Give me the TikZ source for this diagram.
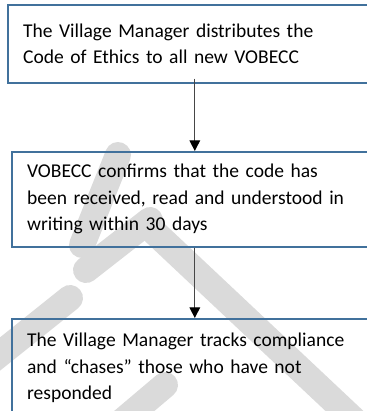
\documentclass[tikz,border=0pt]{standalone}
\usepackage{fontspec}
\setmainfont{Carlito}
\usetikzlibrary{arrows.meta}

\definecolor{boxblue}{RGB}{65,113,156}
\definecolor{markgray}{RGB}{218,218,218}
\definecolor{linegray}{RGB}{70,70,70}

\tikzset{every picture/.style={line width=0.75pt}}
\tikzset{
  stepbox/.style={draw=boxblue, line width=1.2pt, rectangle, anchor=north west,
    align=left, inner xsep=11.5pt, inner ysep=0pt,
    font=\fontsize{14.65}{19.9}\selectfont},
  flowarrow/.style={draw=linegray, line width=0.75pt,
    -{Triangle[length=8pt,width=8pt,color=black]}},
  markstroke/.style={draw=markgray, line width=19.5pt, line cap=round}
}

\begin{document}
\begin{tikzpicture}[x=0.75pt,y=0.75pt,yscale=-1,xscale=1]
\useasboundingbox (0,0) rectangle (367,411);
\clip (0,0) rectangle (367,411);

%Shape: watermark strokes
\draw[markstroke] (150,228) -- (370,435);
\draw[markstroke] (118,155) -- (82,245);
\draw[markstroke] (86,270) -- (150,220);
\draw[markstroke] (70,298) -- (-20,370);
\draw[markstroke] (165,385) -- (100,440);

% Step boxes
\node[stepbox, text width=257.5pt, minimum height=58.5pt] (distribute) at (7,4)
  {The Village Manager distributes the\\Code of Ethics to all new VOBECC};
\node[stepbox, text width=251.5pt, minimum height=71.25pt] (confirm) at (11,151)
  {VOBECC confirms that the code has\\been received, read and understood in\\writing within 30 days};
\node[stepbox, text width=251.5pt, minimum height=74pt] (track) at (11,318)
  {The Village Manager tracks compliance\\and “chases” those who have not\\responded};

% Connectors
\draw[flowarrow] ([yshift=-3.75pt]distribute.south) -- (confirm.north);
\draw[flowarrow] (confirm.south) -- (track.north);

\end{tikzpicture}
\end{document}
